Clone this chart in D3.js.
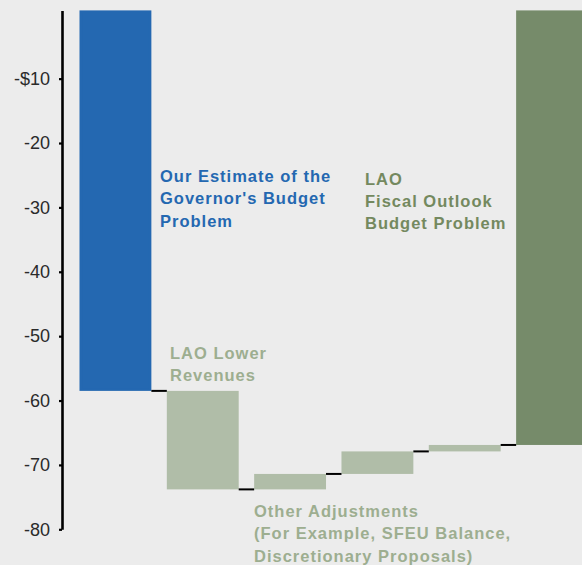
<!DOCTYPE html>
<html>
<head>
<meta charset="utf-8">
<script src="https://d3js.org/d3.v7.min.js"></script>
<style>
  html, body { margin: 0; padding: 0; background: #ececec; }
  svg { display: block; }
</style>
</head>
<body>
<div id="chart"></div>
<script>
// Data (billions of dollars)
var categories = ["governor", "lowerRevenues", "adjust1", "adjust2", "adjust3", "laoOutlook"];
var barKinds = ["total", "change", "change", "change", "change", "total"];
var startTotal = -58.5;
var changes = [-15.3, 2.4, 3.5, 1.0];
var tickValues = [-10, -20, -30, -40, -50, -60, -70, -80];
var tickLabels = ["-$10", "-20", "-30", "-40", "-50", "-60", "-70", "-80"];

var svgWidth = 582;
var svgHeight = 565;

var svg = d3.select("#chart")
  .append("svg")
  .attr("width", svgWidth)
  .attr("height", svgHeight);

// Build the waterfall steps from the running total
var steps = [];
var running = startTotal;
steps.push({ key: categories[0], kind: barKinds[0], from: null, to: startTotal });
changes.forEach(function(c, i) {
  steps.push({ key: categories[i + 1], kind: barKinds[i + 1], from: running, to: running + c });
  running = running + c;
});
steps.push({ key: categories[5], kind: barKinds[5], from: null, to: running });

// Scales
var xScale = d3.scaleBand()
  .domain(categories)
  .range([79.5, 588])
  .paddingInner(0.177)
  .paddingOuter(0);

var yScale = d3.scaleLinear()
  .domain([-80, 0.6])
  .range([529.3, 10.4]);

var colors = { governor: "#2468b1", laoOutlook: "#768b6a", change: "#b0bda8" };
var strokeW = 2.6;

// Bars
svg.selectAll("rect.bar")
  .data(steps)
  .enter()
  .append("rect")
  .attr("class", "bar")
  .attr("x", d => xScale(d.key) + strokeW / 2)
  .attr("width", xScale.bandwidth() - strokeW)
  .attr("y", function(d) {
    var top = d.kind === "total" ? yScale.domain()[1] : Math.max(d.from, d.to);
    return yScale(top) + strokeW / 2;
  })
  .attr("height", function(d) {
    var top = d.kind === "total" ? yScale.domain()[1] : Math.max(d.from, d.to);
    var bottom = d.kind === "total" ? d.to : Math.min(d.from, d.to);
    return Math.max(0.5, yScale(bottom) - yScale(top) - strokeW);
  })
  .attr("fill", d => d.kind === "total" ? colors[d.key] : colors.change)
  .attr("stroke", d => d.kind === "total" ? colors[d.key] : colors.change)
  .attr("stroke-width", strokeW);

// Connector lines between bars
var connectors = steps.slice(0, -1).map(function(d, i) {
  return { left: categories[i], right: categories[i + 1], level: d.to };
});

svg.selectAll("line.connector")
  .data(connectors)
  .enter()
  .append("line")
  .attr("class", "connector")
  .attr("x1", d => xScale(d.left) + xScale.bandwidth())
  .attr("x2", d => xScale(d.right))
  .attr("y1", d => yScale(d.level))
  .attr("y2", d => yScale(d.level))
  .attr("stroke", "#000")
  .attr("stroke-width", 2);

// Y axis
var leftAxis = d3.axisLeft(yScale)
  .tickValues(tickValues)
  .tickFormat((d, i) => tickLabels[i])
  .tickSizeInner(3)
  .tickSizeOuter(0)
  .tickPadding(9);

var axisG = svg.append("g")
  .attr("transform", "translate(62, 0)")
  .call(leftAxis);

axisG.select(".domain")
  .attr("stroke", "#000")
  .attr("stroke-width", 2.6);

axisG.selectAll(".tick line")
  .attr("stroke", "#000")
  .attr("stroke-width", 2.2);

axisG.selectAll(".tick text")
  .attr("fill", "#2a2a2a")
  .style("font-family", "'Liberation Sans', Arial, sans-serif")
  .style("font-size", "18px");

// Annotations
function addLabel(x, y, lines, color) {
  var t = svg.append("text")
    .attr("x", x)
    .attr("y", y)
    .attr("fill", color)
    .style("font-family", "'Liberation Sans', Arial, sans-serif")
    .style("font-size", "16.5px")
    .style("font-weight", "bold")
    .style("letter-spacing", "1px");
  lines.forEach(function(line, i) {
    t.append("tspan")
      .attr("x", x)
      .attr("dy", i === 0 ? 0 : 22.3)
      .text(line);
  });
}

addLabel(160, 182, ["Our Estimate of the", "Governor's Budget", "Problem"], "#2468b1");
addLabel(365, 184.5, ["LAO", "Fiscal Outlook", "Budget Problem"], "#74895f");
addLabel(170, 358.5, ["LAO Lower", "Revenues"], "#9dae90");
addLabel(254, 517, ["Other Adjustments", "(For Example, SFEU Balance,", "Discretionary Proposals)"], "#9dae90");
</script>
</body>
</html>
